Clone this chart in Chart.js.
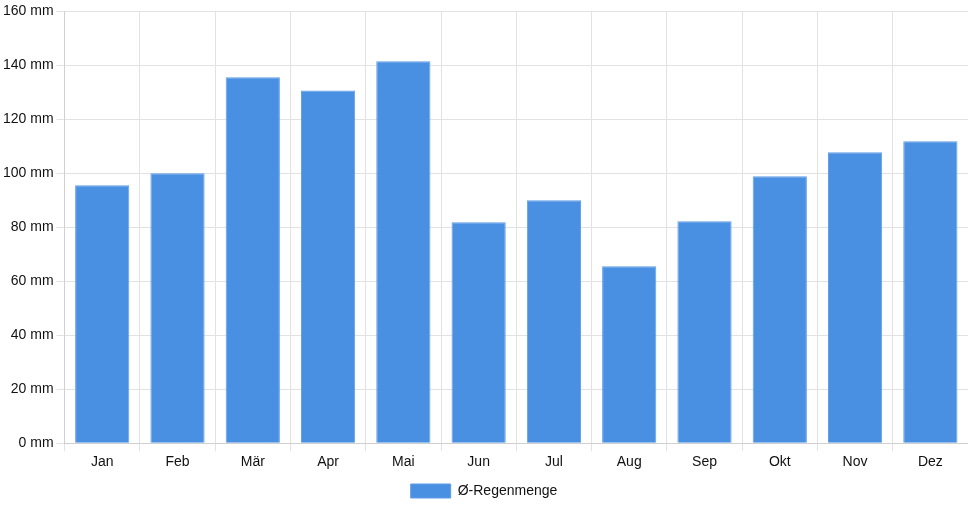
<!DOCTYPE html>
<html>
<head>
<meta charset="utf-8">
<script src="https://cdn.jsdelivr.net/npm/chart.js@4"></script>
<style>
  html, body { margin: 0; padding: 0; background: #fff; }
  #wrap { width: 968px; height: 508px; }
</style>
</head>
<body>
<div id="wrap"><canvas id="regenChart"></canvas></div>
<script>
// Monate und durchschnittliche Regenmenge (mm)
const monate = ['Jan', 'Feb', 'Mär', 'Apr', 'Mai', 'Jun', 'Jul', 'Aug', 'Sep', 'Okt', 'Nov', 'Dez'];
const regenmenge = [95.6, 100, 135.6, 130.7, 141.5, 81.9, 90, 65.6, 82.2, 98.9, 107.8, 111.9];
const serienName = 'Ø-Regenmenge';

Chart.defaults.font.family = '"Liberation Sans", Arial, sans-serif';
Chart.defaults.font.size = 14;
Chart.defaults.color = '#111';

const ctx = document.getElementById('regenChart').getContext('2d');
new Chart(ctx, {
    type: 'bar',
    data: {
        labels: monate,
        datasets: [{
            label: serienName,
            data: regenmenge,
            backgroundColor: '#4a90e2',
            borderColor: '#5f9de6',
            borderWidth: 1
        }]
    },
    options: {
        responsive: true,
        maintainAspectRatio: false,
        animation: false,
        layout: { padding: { top: 5 } },
        plugins: {
            legend: {
                position: 'bottom',
                labels: { boxWidth: 40, boxHeight: 14 }
            },
            tooltip: { enabled: false }
        },
        scales: {
            x: {
                grid: { color: '#e2e2e2' },
                border: { color: '#d0d0d0' }
            },
            y: {
                min: 0,
                max: 160,
                ticks: {
                    stepSize: 20,
                    callback: v => v + ' mm'
                },
                grid: { color: '#e2e2e2' },
                border: { color: '#d0d0d0' }
            }
        }
    }
});
</script>
</body>
</html>
